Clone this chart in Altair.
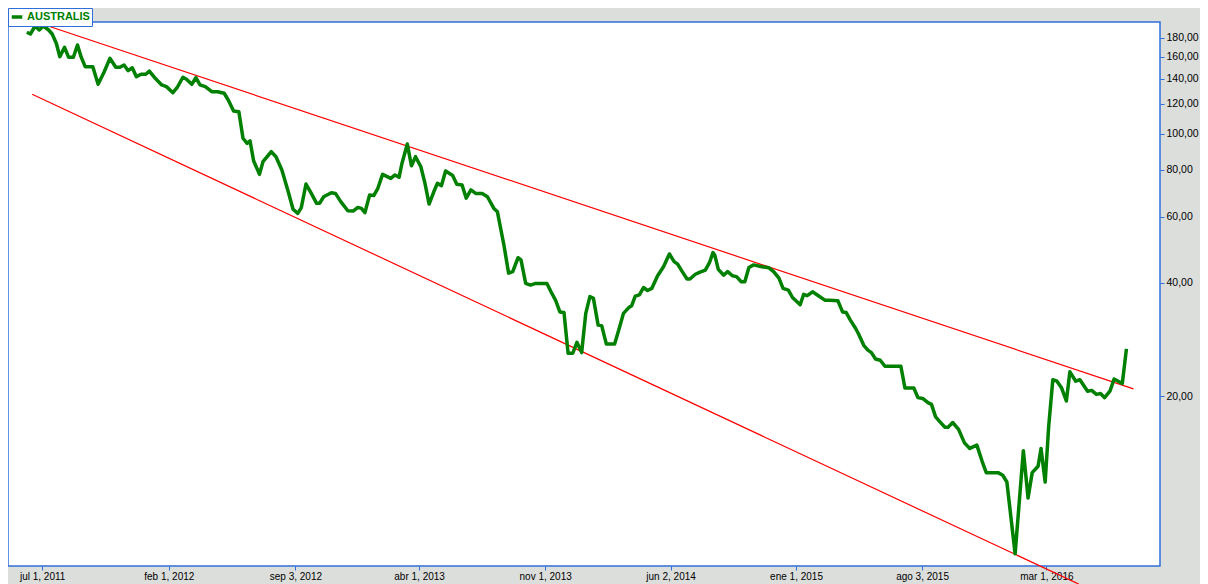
import altair as alt
import pandas as pd

series_name = "AUSTRALIS"

dates = [
    "2011-06-05", "2011-06-11", "2011-06-19", "2011-06-26", "2011-07-03", "2011-07-12", "2011-07-18",
    "2011-07-25", "2011-07-31", "2011-08-08", "2011-08-15", "2011-08-23", "2011-08-30", "2011-09-05",
    "2011-09-12", "2011-09-25", "2011-10-04", "2011-10-14", "2011-10-24", "2011-11-03", "2011-11-10",
    "2011-11-17", "2011-11-24", "2011-12-01", "2011-12-08", "2011-12-16", "2011-12-24", "2011-12-30",
    "2012-01-09", "2012-01-20", "2012-01-28", "2012-02-08", "2012-02-15", "2012-02-25", "2012-03-02",
    "2012-03-11", "2012-03-18", "2012-03-25", "2012-04-03", "2012-04-14", "2012-04-24", "2012-05-05",
    "2012-05-12", "2012-05-21", "2012-05-30", "2012-06-06", "2012-06-13", "2012-06-18", "2012-06-24",
    "2012-07-04", "2012-07-10", "2012-07-24", "2012-08-01", "2012-08-11", "2012-08-21", "2012-08-30",
    "2012-09-07", "2012-09-13", "2012-09-21", "2012-09-30", "2012-10-09", "2012-10-14", "2012-10-21",
    "2012-11-03", "2012-11-10", "2012-11-19", "2012-12-01", "2012-12-10", "2012-12-18", "2012-12-24",
    "2012-12-30", "2013-01-07", "2013-01-14", "2013-01-21", "2013-01-29", "2013-02-12", "2013-02-19",
    "2013-02-26", "2013-03-03", "2013-03-12", "2013-03-19", "2013-03-26", "2013-04-04", "2013-04-11",
    "2013-04-18", "2013-04-26", "2013-05-02", "2013-05-09", "2013-05-16", "2013-05-28", "2013-06-04",
    "2013-06-13", "2013-06-20", "2013-06-28", "2013-07-06", "2013-07-17", "2013-07-26", "2013-08-06",
    "2013-08-12", "2013-08-23", "2013-08-31", "2013-09-07", "2013-09-16", "2013-09-21", "2013-09-29",
    "2013-10-07", "2013-10-16", "2013-11-04", "2013-11-11", "2013-11-19", "2013-11-26", "2013-12-03",
    "2013-12-10", "2013-12-18", "2013-12-25", "2014-01-02", "2014-01-09", "2014-01-16", "2014-01-22",
    "2014-01-30", "2014-02-05", "2014-02-13", "2014-02-27", "2014-03-06", "2014-03-14", "2014-03-23",
    "2014-03-28", "2014-04-03", "2014-04-10", "2014-04-17", "2014-04-24", "2014-05-01", "2014-05-11",
    "2014-05-21", "2014-05-31", "2014-06-08", "2014-06-14", "2014-06-21", "2014-06-30", "2014-07-05",
    "2014-07-14", "2014-07-21", "2014-07-31", "2014-08-07", "2014-08-13", "2014-08-16", "2014-08-22",
    "2014-08-31", "2014-09-07", "2014-09-15", "2014-09-22", "2014-09-30", "2014-10-06", "2014-10-13",
    "2014-10-21", "2014-11-04", "2014-11-16", "2014-11-24", "2014-12-03", "2014-12-10", "2014-12-19",
    "2014-12-26", "2015-01-08", "2015-01-14", "2015-01-20", "2015-01-29", "2015-02-08", "2015-02-19",
    "2015-02-27", "2015-03-13", "2015-03-21", "2015-03-27", "2015-04-03", "2015-04-12", "2015-04-17",
    "2015-04-26", "2015-05-03", "2015-05-09", "2015-05-16", "2015-05-24", "2015-06-01", "2015-06-28",
    "2015-07-05", "2015-07-20", "2015-07-27", "2015-08-04", "2015-08-13", "2015-08-19", "2015-08-26",
    "2015-09-02", "2015-09-11", "2015-09-16", "2015-09-24", "2015-10-04", "2015-10-14", "2015-10-23",
    "2015-11-04", "2015-11-13", "2015-11-20", "2015-11-29", "2015-12-10", "2015-12-18", "2015-12-25",
    "2016-01-08", "2016-01-22", "2016-01-30", "2016-02-06", "2016-02-16", "2016-02-21", "2016-02-28",
    "2016-03-05", "2016-03-12", "2016-03-19", "2016-03-27", "2016-04-04", "2016-04-10", "2016-04-20",
    "2016-04-27", "2016-05-10", "2016-05-17", "2016-05-25", "2016-06-01", "2016-06-08", "2016-06-17",
    "2016-06-24", "2016-07-01", "2016-07-08", "2016-07-15",
]

values = [
    186.2, 184.2, 193.5, 188.8, 193.5, 188.8, 184.2,
    174.0, 160.3, 169.8, 159.7, 159.7, 172.2, 160.3,
    150.8, 150.8, 135.3, 145.7, 158.7, 150.2, 150.2,
    152.3, 147.1, 149.8, 141.8, 143.9, 143.9, 146.8,
    140.4, 134.8, 133.4, 128.5, 132.5, 141.3, 139.5,
    135.3, 140.9, 134.8, 133.4, 129.3, 129.3, 128.1,
    122.9, 114.9, 114.4, 97.2, 94.2, 95.6, 84.7,
    77.9, 84.2, 89.5, 86.8, 80.0, 70.8, 62.9,
    61.3, 63.5, 73.4, 69.3, 65.2, 65.2, 67.9,
    69.6, 69.3, 65.9, 62.3, 62.2, 63.6, 63.2,
    61.6, 68.6, 68.4, 71.5, 77.9, 76.0, 77.6,
    76.5, 83.4, 93.8, 82.1, 86.8, 81.6, 73.7,
    64.9, 70.0, 73.7, 72.7, 79.5, 77.3, 73.3,
    73.0, 67.3, 70.8, 69.3, 69.3, 67.9, 63.2,
    61.9, 50.5, 42.5, 42.9, 46.7, 46.1, 39.9,
    39.5, 39.9, 39.9, 37.9, 35.9, 33.5, 33.4,
    26.0, 26.0, 27.8, 26.1, 33.2, 36.8, 36.4,
    30.9, 30.8, 27.5, 27.5, 30.0, 33.2, 34.4,
    34.8, 36.9, 37.2, 38.9, 38.2, 38.7, 41.8,
    44.2, 47.8, 45.6, 44.9, 43.1, 41.0, 41.0,
    42.2, 42.7, 43.3, 45.3, 48.2, 47.5, 43.5,
    42.0, 42.9, 41.8, 41.6, 40.3, 40.3, 44.0,
    44.7, 44.2, 43.9, 42.9, 41.2, 38.7, 38.3,
    36.6, 35.0, 37.3, 37.0, 37.9, 37.0, 36.0,
    36.0, 35.9, 33.5, 33.4, 31.9, 30.3, 29.3,
    27.3, 26.5, 26.1, 25.1, 24.9, 24.0, 24.0,
    21.0, 21.0, 19.8, 19.7, 19.2, 19.0, 17.6,
    17.1, 16.5, 16.5, 17.0, 16.3, 15.0, 14.5,
    14.8, 13.4, 12.5, 12.5, 12.5, 12.3, 11.8,
    7.6, 14.3, 10.7, 12.5, 13.0, 14.5, 11.8,
    16.6, 22.1, 21.9, 21.0, 19.4, 23.2, 21.9,
    22.1, 20.6, 20.7, 20.2, 20.3, 19.8, 20.6,
    22.2, 21.9, 21.6, 26.7,
]

# trend channel (two straight lines in log space)
upper_dates = ["2011-07-06", "2016-07-27"]
upper_values = [194.7, 20.9]
lower_dates = ["2011-06-14", "2016-04-25"]
lower_values = [127.3, 6.31]

y_ticks = [20, 40, 60, 80, 100, 120, 140, 160, 180]
x_ticks = ["2011-07-01", "2012-02-01", "2012-09-03", "2013-04-01", "2013-11-01",
           "2014-06-02", "2015-01-01", "2015-08-03", "2016-03-01"]
x_domain = ["2011-05-04", "2016-09-10"]
y_domain = [7.05, 198.3]

GREEN = "#008000"
BLUE = "#2f6fdb"
BG = "#dcdedc"


def dt(s):
    y, m, d = (int(p) for p in s.split("-"))
    return alt.DateTime(year=y, month=m, date=d, utc=True)


df = pd.DataFrame({"date": dates, "value": values, "series": series_name})
df_up = pd.DataFrame({"date": upper_dates, "value": upper_values})
df_lo = pd.DataFrame({"date": lower_dates, "value": lower_values})

x_enc = alt.X(
    "date:T",
    scale=alt.Scale(type="utc", domain=[dt(s) for s in x_domain]),
    axis=alt.Axis(
        values=[dt(s) for s in x_ticks],
        labelExpr="['ene','feb','mar','abr','may','jun','jul','ago','sep','oct','nov','dic'][utcmonth(datum.value)] + ' ' + utcdate(datum.value) + ', ' + utcyear(datum.value)",
        domain=False,
        grid=False,
        tickColor=BLUE,
        tickSize=4,
        tickWidth=1,
        labelFont="Liberation Sans",
        labelFontSize=10,
        labelColor="black",
        labelPadding=1,
        labelFlush=False,
        labelOverlap=False,
    ),
    title=None,
)

y_enc = alt.Y(
    "value:Q",
    scale=alt.Scale(type="log", domain=y_domain, nice=False, zero=False),
    axis=alt.Axis(
        orient="right",
        values=y_ticks,
        labelExpr="replace(format(datum.value, '.2f'), '.', ',')",
        domain=False,
        grid=False,
        tickColor=BLUE,
        tickSize=4,
        tickWidth=1,
        labelFont="Liberation Sans",
        labelFontSize=10.5,
        labelColor="black",
        labelPadding=2,
        labelOverlap=False,
    ),
    title=None,
)

upper = alt.Chart(df_up).mark_line(color="#ff0000", strokeWidth=1.2).encode(x=x_enc, y=y_enc)
lower = alt.Chart(df_lo).mark_line(color="#ff0000", strokeWidth=1.2).encode(x=x_enc, y=y_enc)

main = alt.Chart(df).mark_line(strokeWidth=3.5, strokeJoin="round").encode(
    x=x_enc,
    y=y_enc,
    color=alt.Color(
        "series:N",
        scale=alt.Scale(domain=[series_name], range=[GREEN]),
        legend=alt.Legend(
            orient="none",
            legendX=0,
            legendY=-14,
            title=None,
            fillColor="white",
            strokeColor=BLUE,
            padding=2,
            cornerRadius=0,
            symbolType="stroke",
            symbolStrokeWidth=3.5,
            symbolSize=110,
            labelFont="Liberation Sans",
            labelFontSize=11,
            labelFontWeight="bold",
            labelColor=GREEN,
            labelOffset=3,
        ),
    ),
)

chart = (
    alt.layer(upper, lower, main)
    .properties(
        width=1152,
        height=544,
        padding={"left": 0, "top": 14, "right": 40, "bottom": 18},
        autosize=alt.AutoSizeParams(type="none"),
        background=BG,
    )
    .configure_view(stroke=BLUE, strokeWidth=1.5, fill="white")
)

chart.save("out.html", embed_options={"renderer": "svg", "actions": False})
